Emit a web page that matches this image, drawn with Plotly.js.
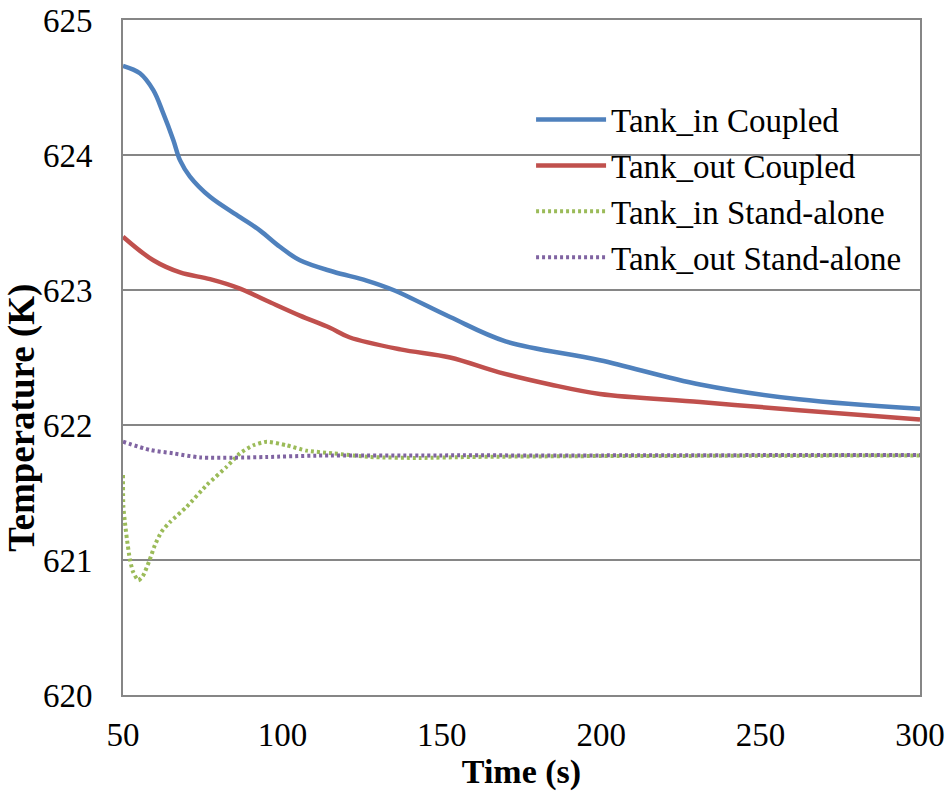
<!DOCTYPE html>
<html>
<head>
<meta charset="utf-8">
<script src="https://cdn.plot.ly/plotly-3.0.1.min.js"></script>
<style>html,body{margin:0;padding:0;background:#fff;}</style>
</head>
<body>
<div id="chart" style="width:951px;height:793px;"></div>
<script>
// Tank_in Coupled
const tInCoupledT = [50, 55.3, 59.5, 62.6, 65.8, 67.9, 71.0, 77.3, 86.7, 93.0, 99.2, 105.5, 116.0, 126.4, 134.8, 152.6, 170, 199.6, 231, 262, 300];
const tInCoupledV = [624.66, 624.605, 624.48, 624.31, 624.11, 623.96, 623.84, 623.69, 623.54, 623.44, 623.32, 623.22, 623.135, 623.07, 623.0, 622.80, 622.62, 622.48, 622.30, 622.19, 622.12];
// Tank_out Coupled
const tOutCoupledT = [50, 59.5, 67.9, 77.3, 86.7, 95.1, 105.5, 114.9, 121, 137, 152.6, 168, 184, 199.6, 231, 262, 300];
const tOutCoupledV = [623.395, 623.22, 623.13, 623.08, 623.01, 622.92, 622.81, 622.72, 622.65, 622.56, 622.50, 622.39, 622.30, 622.23, 622.17, 622.11, 622.04];
// Tank_in Stand-alone
const tInAloneT = [50, 50.1, 50.6, 51.2, 52.2, 53.2, 54.8, 56.2, 58.2, 60.0, 62.1, 64.7, 70.0, 76.3, 82.5, 86.7, 90.9, 95.1, 101.3, 107.6, 116, 127.5, 143, 159, 200, 250, 300];
const tInAloneV = [621.63, 621.40, 621.28, 621.16, 621.0, 620.91, 620.85, 620.88, 620.99, 621.11, 621.21, 621.28, 621.395, 621.556, 621.69, 621.79, 621.85, 621.876, 621.85, 621.81, 621.79, 621.763, 621.756, 621.763, 621.77, 621.772, 621.775];
// Tank_out Stand-alone
const tOutAloneT = [50, 58.5, 65.8, 74.2, 84.6, 95.1, 110.8, 150, 200, 250, 300];
const tOutAloneV = [621.876, 621.815, 621.79, 621.76, 621.758, 621.763, 621.773, 621.775, 621.775, 621.777, 621.778];

const seriesNames = ['Tank_in Coupled', 'Tank_out Coupled', 'Tank_in Stand-alone', 'Tank_out Stand-alone'];
const xTicks = [50, 100, 150, 200, 250, 300];
const yTicks = [620, 621, 622, 623, 624, 625];
const xTitle = 'Time (s)';
const yTitle = 'Temperature (K)';

const font = 'Liberation Serif, Cambria, serif';

const traces = [
  {x: tInCoupledT, y: tInCoupledV, name: seriesNames[0], mode: 'lines',
   line: {color: '#4F81BD', width: 4.5, shape: 'spline', smoothing: 1}},
  {x: tOutCoupledT, y: tOutCoupledV, name: seriesNames[1], mode: 'lines',
   line: {color: '#C0504D', width: 4.5, shape: 'spline', smoothing: 1}},
  {x: tInAloneT, y: tInAloneV, name: seriesNames[2], mode: 'lines',
   line: {color: '#9BBB59', width: 4, dash: '3px,3px', shape: 'spline', smoothing: 0.6}},
  {x: tOutAloneT, y: tOutAloneV, name: seriesNames[3], mode: 'lines',
   line: {color: '#8064A2', width: 4, dash: '3px,3px', shape: 'spline', smoothing: 0.8}}
];

const layout = {
  width: 951, height: 793,
  margin: {l: 123, r: 31, t: 20, b: 98},
  paper_bgcolor: '#fff', plot_bgcolor: '#fff',
  font: {family: font, color: '#000', size: 33},
  showlegend: true,
  legend: {x: 0.512, y: 0.894, xanchor: 'left', yanchor: 'top',
           bgcolor: 'rgba(255,255,255,0)', font: {family: font, size: 33, color: '#000'},
           itemwidth: 70, tracegroupgap: 0},
  xaxis: {range: [50, 300], tickvals: xTicks, ticktext: xTicks.map(String),
          showgrid: false, zeroline: false, showline: true, linecolor: '#868686', linewidth: 2,
          mirror: true, ticks: '', tickfont: {family: font, size: 33}, ticklabelstandoff: 9,
          title: {text: '<b>' + xTitle + '</b>', font: {family: font, size: 34}, standoff: 2}},
  yaxis: {range: [620, 625], tickvals: yTicks, ticktext: yTicks.map(String),
          showgrid: true, gridcolor: '#868686', gridwidth: 2, zeroline: false,
          showline: true, linecolor: '#868686', linewidth: 2, mirror: true, ticks: '',
          tickfont: {family: font, size: 33}, ticklabelstandoff: 22},
  annotations: [{
    text: '<b>' + yTitle + '</b>', textangle: -90, showarrow: false,
    xref: 'paper', yref: 'paper', x: -0.126, y: 0.41, xanchor: 'center', yanchor: 'middle',
    font: {family: font, size: 37, color: '#000'}
  }]
};

Plotly.newPlot('chart', traces, layout, {displayModeBar: false, staticPlot: true});
</script>
</body>
</html>
